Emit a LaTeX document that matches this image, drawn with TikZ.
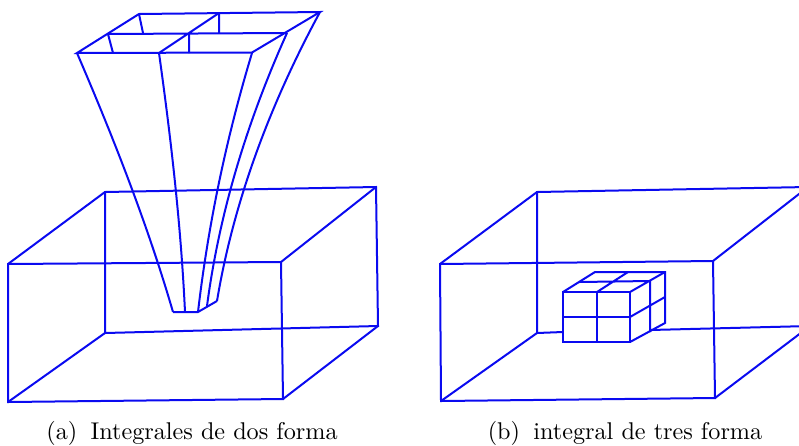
\documentclass[tikz,border=0pt]{standalone}
\definecolor{wire}{RGB}{10,10,240}
\tikzset{wire/.style={draw=wire,line width=2pt,line join=miter,line cap=butt},
  caption/.style={inner sep=0pt}}
\begin{document}
\begin{tikzpicture}[x=1pt,y=-1pt]
\useasboundingbox (0,0) rectangle (799,445);
\clip (0,0) rectangle (799,445);
% box a
\draw[wire] (8,264) -- (281,262) -- (283,399) -- (8,402) -- cycle;
\draw[wire] (105,192) -- (376,187) -- (378,326) -- (105,333) -- cycle;
\draw[wire] (8,264) -- (105,192) (281,262) -- (376,187) (283,399) -- (378,326) (8,402) -- (105,333);
% funnel top
\draw[wire] (77,53) -- (252,52.5) -- (320,12) -- (139,14) -- cycle;
\draw[wire] (108,34) -- (287,33) (159,53) -- (219,13);
\draw[wire] (139,14) -- (143,33) (108,34) -- (113,53) (189,33) -- (189,53) (219,13) -- (219,33);
% funnel sides
\draw[wire] (77,53) .. controls (114,139) and (148,226) .. (173,312);
\draw[wire] (159,53) .. controls (171,139) and (181,226) .. (185,312);
\draw[wire] (252,53) .. controls (226,139) and (208,226) .. (198,312);
\draw[wire] (287,33) .. controls (246,124) and (219,215) .. (207,306);
\draw[wire] (320,12) .. controls (268,108) and (233,205) .. (217,301);
\draw[wire] (173,312) -- (198,312) -- (217,301);
% box b
\draw[wire] (440,264) -- (713,261) -- (715,398) -- (441,401) -- cycle;
\draw[wire] (537,333) -- (537,192) -- (808,187) -- (810,326);
\draw[wire] (440,264) -- (537,192) (713,261) -- (808,187) (715,398) -- (810,326) (441,401) -- (537,333);
\draw[wire] (537,333) -- (563,332) (650,330) -- (810,326);
% small cube
\draw[wire] (563,292) rectangle (630,342);
\draw[wire] (597,292) -- (597,342) (563,317) -- (630,317);
\draw[wire] (563,292) -- (595,272) -- (665,272) -- (665,323) -- (630,342);
\draw[wire] (630,292) -- (665,272) (630,317) -- (665,297) (597,292) -- (628,272) (579,282) -- (650,281) -- (650,332);
% captions
\node[caption] (capa) at (192,433) {\scalebox{2.42}{(a)\hspace{0.55em}Integrales de dos forma}};
\node[caption] (capb) at (625,433) {\scalebox{2.42}{(b)\hspace{0.55em}integral de tres forma}};
\end{tikzpicture}
\end{document}
